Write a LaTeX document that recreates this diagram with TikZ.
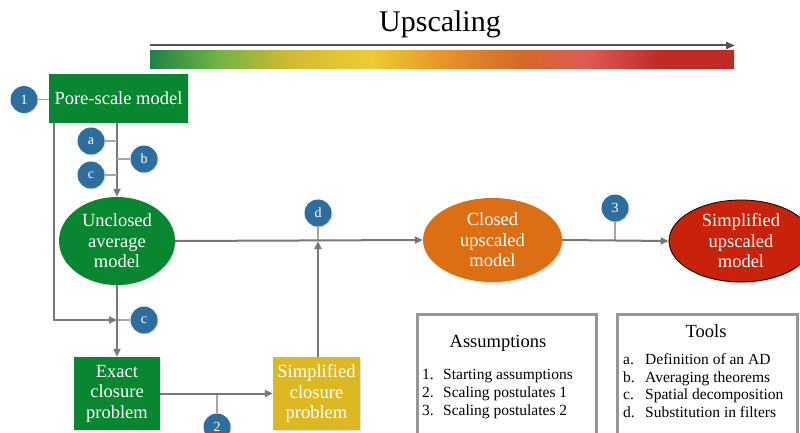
\documentclass[tikz,border=0pt]{standalone}
\usepackage{fontspec}
\IfFontExistsTF{LiberationSerif-Regular.ttf}{\setmainfont{LiberationSerif-Regular.ttf}}{\setmainfont{Liberation Serif}}
\usetikzlibrary{arrows.meta,shapes.geometric,shadows}
\definecolor{pgreen}{RGB}{8,134,48}
\definecolor{porange}{RGB}{220,110,20}
\definecolor{pred}{RGB}{200,35,10}
\definecolor{pyellow}{RGB}{220,185,35}
\definecolor{pblue}{RGB}{46,110,158}
\definecolor{conncol}{RGB}{120,120,120}
\definecolor{tickcol}{RGB}{165,165,165}
\definecolor{topcol}{RGB}{80,82,90}
\definecolor{boxcol}{RGB}{150,150,150}
\definecolor{g1}{RGB}{30,130,70}
\definecolor{g2}{RGB}{110,180,70}
\definecolor{g3}{RGB}{210,185,50}
\definecolor{g4}{RGB}{235,205,50}
\definecolor{g5}{RGB}{232,150,40}
\definecolor{g6}{RGB}{212,105,40}
\definecolor{g7}{RGB}{222,90,85}
\definecolor{g8}{RGB}{190,42,38}
\tikzset{
  softshadow/.style={drop shadow={opacity=0.25,shadow xshift=1.2pt,shadow yshift=-1.2pt}},
  bigfont/.style={font=\fontsize{18.5}{20.5}\selectfont},
  gbox/.style={rectangle,fill=pgreen,text=white,inner sep=0pt,align=center,bigfont,softshadow},
  ybox/.style={rectangle,fill=pyellow,text=white,inner sep=0pt,align=center,bigfont,softshadow},
  ell/.style={ellipse,inner sep=0pt,text=white,align=center,bigfont,softshadow},
  num/.style={circle,fill=pblue,text=white,minimum size=27pt,inner sep=0pt,font=\fontsize{14}{14}\selectfont,softshadow},
  conn/.style={draw=conncol,line width=2pt},
  arr/.style={conn,-{Triangle[length=8pt,width=7pt]}},
  tk/.style={draw=tickcol,line width=1.5pt},
  infobox/.style={rectangle,draw=boxcol,line width=2.5pt,fill=white,softshadow},
  title/.style={font=\fontsize{18.5}{20}\selectfont},
  item/.style={anchor=base west,inner sep=0pt,font=\fontsize{15.5}{18}\selectfont},
}
\begin{document}
\begin{tikzpicture}[x=1pt,y=-1pt]
\useasboundingbox (0,0) rectangle (800,433);
\clip (0,0) rectangle (800,433);
% title and bar
\node[font=\fontsize{30}{30}\selectfont,anchor=base,inner sep=0pt] (ttl) at (440,32) {Upscaling};
\coordinate (bs) at (150,45.5);
\coordinate (be) at (735,45.5);
\draw[draw=topcol,line width=2pt,-{Triangle[length=9pt,width=7pt]}] (bs) -- (be);
\shade[left color=g1,right color=g2] (150,51) rectangle (217.5,69);
\shade[left color=g2,right color=g3] (217,51) rectangle (290.5,69);
\shade[left color=g3,right color=g4] (290,51) rectangle (370.5,69);
\shade[left color=g4,right color=g5] (370,51) rectangle (440.5,69);
\shade[left color=g5,right color=g6] (440,51) rectangle (520.5,69);
\shade[left color=g6,right color=g7] (520,51) rectangle (587.5,69);
\shade[left color=g7,right color=g8] (587,51) rectangle (660.5,69);
\shade[left color=g8,right color=g8] (660,51) rectangle (734,69);
% main nodes
\node[gbox,minimum width=139pt,minimum height=49pt] (pore) at (118.5,98.5) {Pore-scale model};
\node[ell,fill=pgreen,minimum width=116pt,minimum height=88pt] (unc) at (117,241) {Unclosed\\average\\model};
\node[ell,fill=porange,minimum width=139pt,minimum height=84pt] (closed) at (492.5,240) {Closed\\upscaled\\model};
\node[ell,fill=pred,draw=black,line width=0.8pt,minimum width=144pt,minimum height=82pt] (simpu) at (741,241) {Simplified\\upscaled\\model};
\node[gbox,minimum width=86pt,minimum height=73pt] (exact) at (117,393.5) {Exact\\closure\\problem};
\node[ybox,minimum width=87pt,minimum height=73pt] (simpc) at (316.5,393.5) {Simplified\\closure\\problem};
% number circles
\node[num] (one) at (24,99.5) {1};
\node[num] (a) at (91,141) {a};
\node[num] (cA) at (91,175) {c};
\node[num] (b) at (144,159) {b};
\node[num] (cB) at (144,320) {c};
\node[num] (d) at (318,213) {d};
\node[num] (three) at (615,208) {3};
\node[num] (two) at (217,427) {2};
% connectors
\draw[tk] (one) -- (pore.west |- one);
\draw[arr] (pore.south -| unc.north) -- (unc.north);
\draw[tk] (a) -- (a -| unc.north);
\draw[tk] (cA) -- (cA -| unc.north);
\draw[tk] (b) -- (b -| unc.north);
\draw[arr] ([xshift=5.5pt]pore.south west) |- (unc.south |- cB);
\draw[tk] (cB) -- (cB -| unc.south);
\draw[arr] (unc.south) -- (exact.north);
\draw[tk] (two) -- (two |- exact.east);
\draw[arr] (exact.east) -- (simpc.west);
\draw[tk] (d) -- (d |- unc.east);
\draw[arr] (simpc.north -| d) -- (d |- unc.east);
\draw[arr] (unc.east) -- (closed.west);
\draw[tk] (three) -- (three |- closed.east);
\draw[arr] (closed.east) -- (simpu.west);
% info boxes
\node[infobox,minimum width=179pt,minimum height=140pt,anchor=north west] (asm) at (416,313) {};
\node[title,anchor=base,inner sep=0pt] (asmt) at (498,347) {Assumptions};
\node[item] (i1) at (422,379) {1.};
\node[item] (i2) at (422,397) {2.};
\node[item] (i3) at (422,415) {3.};
\node[item] (t1) at (443,379) {Starting assumptions};
\node[item] (t2) at (443,397) {Scaling postulates 1};
\node[item] (t3) at (443,415) {Scaling postulates 2};
\node[infobox,minimum width=180pt,minimum height=140pt,anchor=north west] (tools) at (616,313) {};
\node[title,anchor=base,inner sep=0pt] (toolst) at (706,337) {Tools};
\node[item] (la) at (623,364) {a.};
\node[item] (lb) at (623,382) {b.};
\node[item] (lc) at (623,399) {c.};
\node[item] (ld) at (623,417) {d.};
\node[item] (ta) at (645,364) {Definition of an AD};
\node[item] (tb) at (645,382) {Averaging theorems};
\node[item] (tc) at (645,399) {Spatial decomposition};
\node[item] (td) at (645,417) {Substitution in filters};
\end{tikzpicture}
\end{document}
